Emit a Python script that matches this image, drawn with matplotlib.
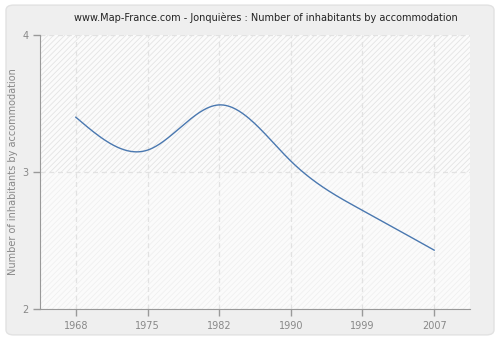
import numpy as np
import matplotlib.pyplot as plt
from matplotlib.patches import FancyBboxPatch

plt.rcParams['hatch.linewidth'] = 0.6

years = ['1968', '1975', '1982', '1990', '1999', '2007']
values = [3.40, 3.16, 3.49, 3.08, 2.72, 2.43]
yticks = [2, 3, 4]


def natural_spline(x, y, n=300):
    # natural cubic spline through the points
    x = np.asarray(x, float)
    y = np.asarray(y, float)
    k = len(x)
    h = np.diff(x)
    A = np.zeros((k, k))
    b = np.zeros(k)
    A[0, 0] = A[-1, -1] = 1
    for i in range(1, k - 1):
        A[i, i - 1] = h[i - 1]
        A[i, i] = 2 * (h[i - 1] + h[i])
        A[i, i + 1] = h[i]
        b[i] = 3 * ((y[i + 1] - y[i]) / h[i] - (y[i] - y[i - 1]) / h[i - 1])
    c = np.linalg.solve(A, b)
    xs = np.linspace(x[0], x[-1], n)
    ys = np.empty_like(xs)
    for j, t in enumerate(xs):
        i = min(np.searchsorted(x, t, side='right') - 1, k - 2)
        d = t - x[i]
        bi = (y[i + 1] - y[i]) / h[i] - h[i] * (2 * c[i] + c[i + 1]) / 3
        di = (c[i + 1] - c[i]) / (3 * h[i])
        ys[j] = y[i] + bi * d + c[i] * d ** 2 + di * d ** 3
    return xs, ys


fig = plt.figure(figsize=(5, 3.4), dpi=100)
fig.patch.set_facecolor('white')
frame = FancyBboxPatch((0.012, 0.015), 0.976, 0.97,
                       boxstyle='round,pad=0,rounding_size=0.015',
                       transform=fig.transFigure, facecolor='#efefef',
                       edgecolor='#e2e2e2', linewidth=1, zorder=-10)
fig.patches.append(frame)

ax = fig.add_axes([0.08, 0.091, 0.86, 0.806])
ax.set_zorder(5)
ax.set_facecolor('#fbfbfb')
x = np.arange(len(years))
ax.set_xlim(-0.5, len(years) - 0.5)
ax.set_ylim(2, 4)

# striped bands behind the plot
ax.axhspan(3, 4, facecolor='#fbfbfb', edgecolor='#e4e4e4', hatch='//////', linewidth=0, zorder=0)
ax.axhspan(2, 3, facecolor='#fbfbfb', edgecolor='#f0f0f0', hatch='//////', linewidth=0, zorder=0)

ax.grid(True, color='#e2e2e2', linestyle=(0, (4, 3)), linewidth=0.9, zorder=1)

xs, ys = natural_spline(x, values)
ax.plot(xs, ys, color='#4a78b0', linewidth=1.0, zorder=3)

ax.set_xticks(x)
ax.set_xticklabels(years)
ax.set_yticks(yticks)
ax.tick_params(colors='#999999', labelcolor='#888888', labelsize=7, length=5, width=1)
for s in ['top', 'right']:
    ax.spines[s].set_visible(False)
for s in ['left', 'bottom']:
    ax.spines[s].set_color('#999999')

ax.set_ylabel('Number of inhabitants by accommodation', color='#888888', fontsize=7)
ax.yaxis.set_label_coords(-0.052, 0.5)
fig.text(0.532, 0.947, 'www.Map-France.com - Jonquières : Number of inhabitants by accommodation',
         ha='center', va='center', fontsize=7, color='#222222')

fig.savefig('out.png', dpi=100)
